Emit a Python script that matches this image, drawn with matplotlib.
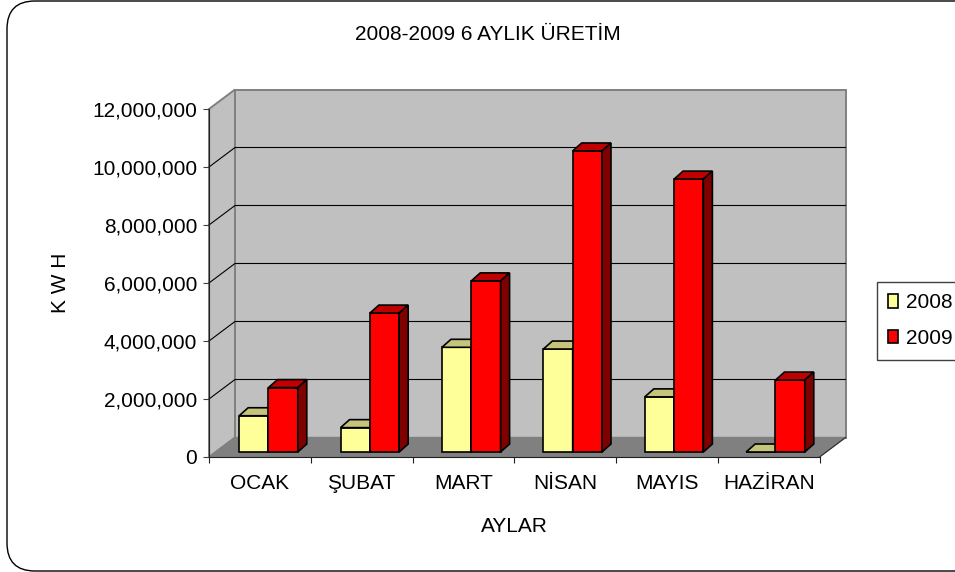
import matplotlib
matplotlib.use('Agg')
import matplotlib.pyplot as plt
from matplotlib.patches import FancyBboxPatch, Patch, Polygon

plt.rcParams['font.family'] = ['Liberation Sans', 'DejaVu Sans']

# --- Data ---
months = ['OCAK', 'ŞUBAT', 'MART', 'NİSAN', 'MAYIS', 'HAZİRAN']
values_2008 = [1250000, 840000, 3610000, 3550000, 1900000, 0]
values_2009 = [2220000, 4790000, 5900000, 10380000, 9410000, 2480000]
y_ticks = [0, 2000000, 4000000, 6000000, 8000000, 10000000, 12000000]
y_labels = ['0', '2,000,000', '4,000,000', '6,000,000', '8,000,000', '10,000,000', '12,000,000']

# --- Fake 3D geometry, given in pixels of the 955x572 figure ---
W, H = 955, 572
left, right, top, bottom = 209, 819.5, 109, 457
px_x = 6 / (right - left)
px_y = 12000000 / (bottom - top)
wall_dx, wall_dy = 26 * px_x, 19.5 * px_y
bar_dx, bar_dy = 9 * px_x, 8 * px_y
bar_w = 29.3 * px_x
shift_x, base = 8.6 * px_x, 5 * px_y
bar_step = 101.4 * px_x

fig = plt.figure(figsize=(W / 100, H / 100), dpi=100)

# rounded chart border, runs off the right edge like the original
bg = fig.add_axes([0, 0, 1, 1])
bg.set_xlim(0, W)
bg.set_ylim(H, 0)
bg.axis('off')
bg.add_patch(FancyBboxPatch((35, 29), 950, 514, boxstyle='round,pad=28,rounding_size=28',
                            fc='white', ec='black', lw=1.0, clip_on=False))

ax = fig.add_axes([left / W, (H - bottom) / H, (right - left) / W, (bottom - top) / H])
ax.set_xlim(0, 6)
ax.set_ylim(0, 12000000)
ax.patch.set_visible(False)
for s in ['top', 'right']:
    ax.spines[s].set_visible(False)


def poly(pts, fc, ec='black', lw=1.2, z=2):
    ax.add_patch(Polygon(pts, closed=True, fc=fc, ec=ec, lw=lw, zorder=z, clip_on=False, joinstyle='miter'))


# walls and floor
ymax = 12000000
poly([(wall_dx, wall_dy), (6 + wall_dx, wall_dy), (6 + wall_dx, ymax + wall_dy), (wall_dx, ymax + wall_dy)],
     '#c0c0c0', ec='#808080', lw=1.4, z=1)
poly([(0, 0), (wall_dx, wall_dy), (wall_dx, ymax + wall_dy), (0, ymax)], '#c0c0c0', ec='#808080', lw=1.4, z=1)
poly([(0, 0), (6, 0), (6 + wall_dx, wall_dy), (wall_dx, wall_dy)], '#808080', ec='#808080', lw=1.0, z=1)
ax.plot([6, 6 + wall_dx], [0, wall_dy], color='#303030', lw=0.8, zorder=1.5, clip_on=False)

# gridlines on the back wall and side wall
for v in y_ticks[1:-1]:
    ax.plot([0, wall_dx, 6 + wall_dx], [v, v + wall_dy, v + wall_dy], color='black', lw=0.8, zorder=1.5, clip_on=False)

# bars, 2008 first so the red one sits over its side
for i in range(len(months)):
    for j, (vals, front, top_c, side_c) in enumerate([(values_2008, '#ffff99', '#c4c47a', '#80804d'),
                                                     (values_2009, '#ff0000', '#c00000', '#800000')]):
        x0 = 0.5 + shift_x + i * bar_step + (j - 1) * bar_w
        x1 = x0 + bar_w
        v = vals[i]
        z = 3 + i * 2 + j
        ax.bar(x0, v, width=bar_w, bottom=base, align='edge', color=front, edgecolor='black',
               linewidth=1.2, zorder=z, clip_on=False)
        poly([(x0, base + v), (x1, base + v), (x1 + bar_dx, base + v + bar_dy), (x0 + bar_dx, base + v + bar_dy)],
             top_c, z=z)
        poly([(x1, base), (x1 + bar_dx, base + bar_dy), (x1 + bar_dx, base + v + bar_dy), (x1, base + v)],
             side_c, z=z)

# axes
ax.spines['left'].set_color('#202020')
ax.spines['bottom'].set_color('#202020')
ax.spines['left'].set_zorder(30)
ax.spines['bottom'].set_zorder(30)
ax.set_yticks(y_ticks)
ax.set_yticklabels(y_labels, fontsize=15)
ax.set_xticks(range(7))
ax.set_xticklabels([])
ax.set_xticks([i + 0.5 for i in range(6)], labels=months, minor=True, fontsize=15)
ax.tick_params(axis='x', which='major', length=4.5, color='#202020')
ax.tick_params(axis='x', which='minor', length=0, pad=12)
ax.tick_params(axis='y', length=4.5, pad=4, color='#404040')

# titles
bg.text(488, 34, '2008-2009 6 AYLIK ÜRETİM', ha='center', va='center', fontsize=15)
bg.text(514, 527, 'AYLAR', ha='center', va='center', fontsize=15)
bg.text(60, 283, 'K W H', ha='center', va='center', rotation=90, fontsize=15)

# legend
handles = [Patch(fc='#ffff99', ec='black', lw=1.2, label='2008'), Patch(fc='#ff0000', ec='black', lw=1.2, label='2009')]
fig.legend(handles=handles, loc='upper left', bbox_to_anchor=(877 / W, 1 - 282 / H), fontsize=15,
           fancybox=False, edgecolor='#404040', framealpha=1, borderaxespad=0, borderpad=0.55,
           handlelength=0.45, handleheight=0.6, handletextpad=0.4, labelspacing=0.8)

plt.savefig('out.png', dpi=100)
